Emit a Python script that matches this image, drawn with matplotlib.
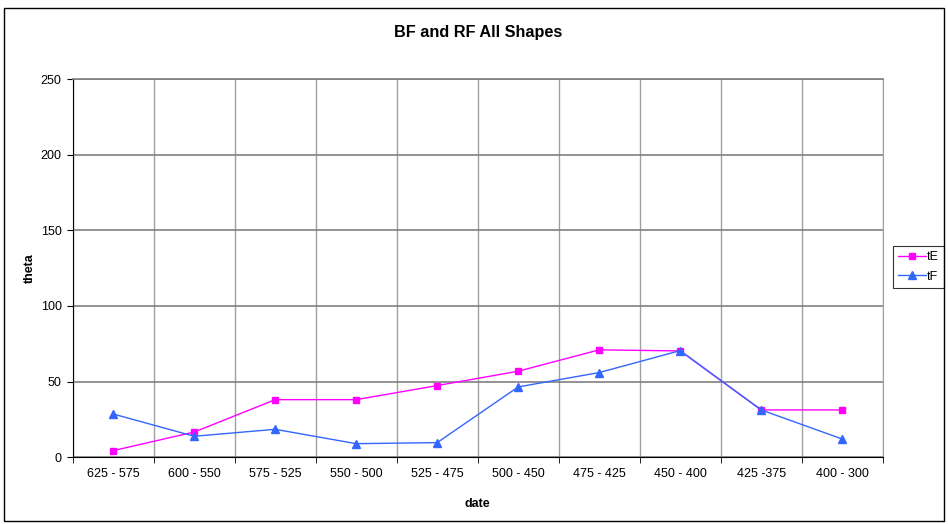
import matplotlib
matplotlib.use("Agg")
import matplotlib.pyplot as plt
from matplotlib.patches import Rectangle
import numpy as np

plt.rcParams['font.family'] = ['Liberation Sans', 'DejaVu Sans']

dates = ["625 - 575", "600 - 550", "575 - 525", "550 - 500", "525 - 475",
         "500 - 450", "475 - 425", "450 - 400", "425 -375", "400 - 300"]
tE = [4.4, 16.7, 38.1, 38.1, 47.4, 56.9, 71.0, 70.3, 31.3, 31.3]
tF = [28.6, 13.9, 18.5, 9.0, 9.7, 46.5, 56.0, 70.5, 31.3, 12.1]

fig = plt.figure(figsize=(9.48, 5.24), dpi=100)
ax = fig.add_axes([0.0767, 0.1273, 0.8544, 0.7219])

x = np.arange(len(dates))
ax.plot(x, tE, color='#ff00ff', lw=1, marker='s', ms=5, label='tE', zorder=3)
ax.plot(x, tF, color='#3366ff', lw=1, marker='^', ms=5.5, label='tF', zorder=3)

ax.set_xlim(-0.5, len(dates) - 0.5)
ax.set_ylim(0, 250)
ax.set_yticks(range(0, 251, 50))
ax.set_xticks(x)
ax.set_xticklabels(dates, fontsize=9)
ax.set_xticks(np.arange(-0.5, len(dates)), minor=True)
ax.tick_params(axis='x', which='major', length=0, pad=8)
ax.tick_params(axis='x', which='minor', length=4, direction='out', color='black')
ax.tick_params(axis='y', length=4, direction='out', labelsize=9, pad=4)

ax.grid(axis='y', which='major', color='#808080', lw=1.2)
ax.grid(axis='x', which='minor', color='#a0a0a0', lw=1)
ax.set_axisbelow(True)

ax.spines['left'].set_color('black')
ax.spines['bottom'].set_color('black')
ax.spines['top'].set_color('#808080')
ax.spines['right'].set_color('#a0a0a0')
ax.spines['top'].set_linewidth(1.2)

# title placed in figure coords to sit where the original has it
fig.text(0.504, 1 - 33 / 524, 'BF and RF All Shapes', fontsize=11.7, fontweight='bold',
         ha='center', va='center')
ax.set_xlabel('date', fontsize=9, fontweight='bold')
ax.set_ylabel('theta', fontsize=9, fontweight='bold')
ax.xaxis.set_label_coords(0.5, -0.108)
ax.yaxis.set_label_coords(-0.046, 0.5)

leg = ax.legend(loc='upper left', bbox_to_anchor=(893 / 948, 1 - 246 / 524),
                bbox_transform=fig.transFigure, fontsize=9,
                frameon=True, fancybox=False, edgecolor='black', handlelength=2.2,
                borderpad=0.4, labelspacing=0.6, handletextpad=0.1, borderaxespad=0)
leg.get_frame().set_linewidth(0.8)

fig.patches.append(Rectangle((0.004, 0.006), 0.992, 0.979, transform=fig.transFigure,
                             fill=False, edgecolor='black', lw=1))

fig.savefig('out.png', dpi=100)
